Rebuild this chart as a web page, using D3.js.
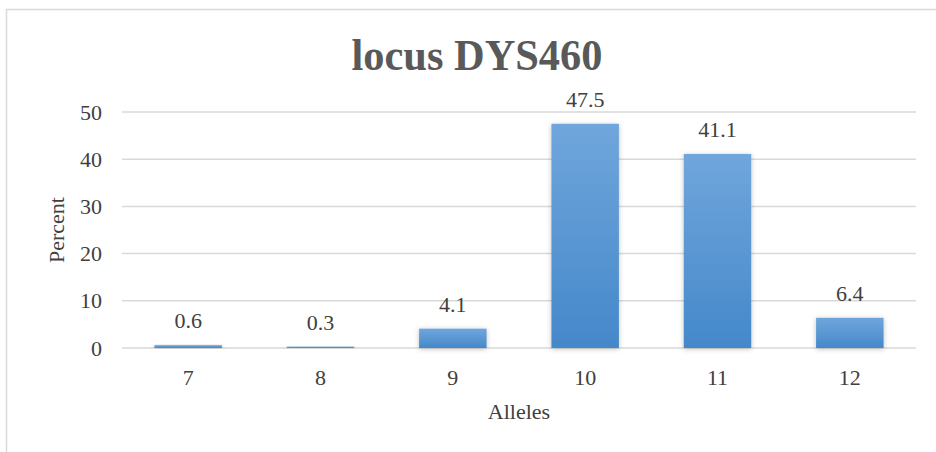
<!DOCTYPE html>
<html>
<head>
<meta charset="utf-8">
<script src="https://cdn.jsdelivr.net/npm/d3@7"></script>
</head>
<body style="margin:0; background:#fff">
<svg id="chart" style="display:block"></svg>
<script>
// chart data
const alleles = ["7", "8", "9", "10", "11", "12"];
const percents = [0.6, 0.3, 4.1, 47.5, 41.1, 6.4];
const yTicks = [0, 10, 20, 30, 40, 50];

const width = 936;
const height = 452;
const margin = { top: 112, right: 20, bottom: 104, left: 122 };
const serif = "'Liberation Serif', 'Times New Roman', serif";
const fontSize = 22;

const svg = d3.select("#chart")
    .attr("width", width)
    .attr("height", height);

// outer chart frame
svg.append("rect")
    .attr("x", 6.5)
    .attr("y", 9.5)
    .attr("width", width + 10)
    .attr("height", height + 10)
    .attr("fill", "#fff")
    .attr("stroke", "#d9d9d9")
    .attr("stroke-width", 1.5);

const defs = svg.append("defs");
const grad = defs.append("linearGradient")
    .attr("id", "barGrad")
    .attr("x1", 0).attr("y1", 0).attr("x2", 0).attr("y2", 1);
grad.append("stop").attr("offset", "0%").attr("stop-color", "#70a6dc");
grad.append("stop").attr("offset", "100%").attr("stop-color", "#4488ca");

const shadow = defs.append("filter").attr("id", "shadow")
    .attr("x", "-30%").attr("y", "-30%").attr("width", "160%").attr("height", "160%");
shadow.append("feDropShadow")
    .attr("dx", 0).attr("dy", 1).attr("stdDeviation", 2.5)
    .attr("flood-color", "#000").attr("flood-opacity", 0.25);

const xScale = d3.scaleBand()
    .domain(alleles)
    .range([margin.left, width - margin.right])
    .paddingInner(0.49)
    .paddingOuter(0.245);

const yScale = d3.scaleLinear()
    .domain([0, 50])
    .range([height - margin.bottom, margin.top]);

// gridlines
svg.append("g")
    .selectAll("line")
    .data(yTicks)
    .enter()
    .append("line")
    .attr("x1", margin.left)
    .attr("x2", width - margin.right)
    .attr("y1", d => yScale(d))
    .attr("y2", d => yScale(d))
    .attr("stroke", "#d9d9d9")
    .attr("stroke-width", 1.5);

// y axis labels
svg.append("g")
    .attr("transform", `translate(${margin.left - 20}, 0)`)
    .call(d3.axisLeft(yScale).tickValues(yTicks).tickSize(0).tickPadding(0))
    .attr("font-family", serif)
    .attr("font-size", fontSize)
    .call(g => g.select(".domain").remove())
    .selectAll("text")
    .attr("fill", "#404040");

// bars
svg.selectAll(".bar")
    .data(percents)
    .enter()
    .append("rect")
    .attr("class", "bar")
    .attr("x", (d, i) => xScale(alleles[i]))
    .attr("y", d => yScale(d))
    .attr("width", xScale.bandwidth())
    .attr("height", d => yScale(0) - yScale(d))
    .attr("fill", "url(#barGrad)")
    .attr("filter", "url(#shadow)");

// value labels
svg.selectAll(".bar-label")
    .data(percents)
    .enter()
    .append("text")
    .attr("class", "bar-label")
    .attr("x", (d, i) => xScale(alleles[i]) + xScale.bandwidth() / 2)
    .attr("y", d => yScale(d) - 17)
    .attr("text-anchor", "middle")
    .attr("fill", "#404040")
    .attr("font-family", serif)
    .attr("font-size", fontSize)
    .text(d => d);

// x axis labels
svg.append("g")
    .attr("transform", `translate(0, ${height - margin.bottom + 21})`)
    .call(d3.axisBottom(xScale).tickSize(0).tickPadding(0))
    .attr("font-family", serif)
    .attr("font-size", fontSize)
    .call(g => g.select(".domain").remove())
    .selectAll("text")
    .attr("fill", "#404040");

// axis titles
svg.append("text")
    .attr("x", 519)
    .attr("y", 419)
    .attr("text-anchor", "middle")
    .attr("fill", "#404040")
    .attr("font-family", serif)
    .attr("font-size", fontSize)
    .text("Alleles");

svg.append("text")
    .attr("transform", `translate(64, ${yScale(25)}) rotate(-90)`)
    .attr("text-anchor", "middle")
    .attr("fill", "#404040")
    .attr("font-family", serif)
    .attr("font-size", fontSize)
    .text("Percent");

// chart title
svg.append("text")
    .attr("x", 477)
    .attr("y", 70)
    .attr("text-anchor", "middle")
    .attr("fill", "#595959")
    .attr("font-family", serif)
    .attr("font-size", 44)
    .attr("font-weight", "bold")
    .attr("textLength", 251)
    .attr("lengthAdjust", "spacingAndGlyphs")
    .text("locus DYS460");
</script>
</body>
</html>
